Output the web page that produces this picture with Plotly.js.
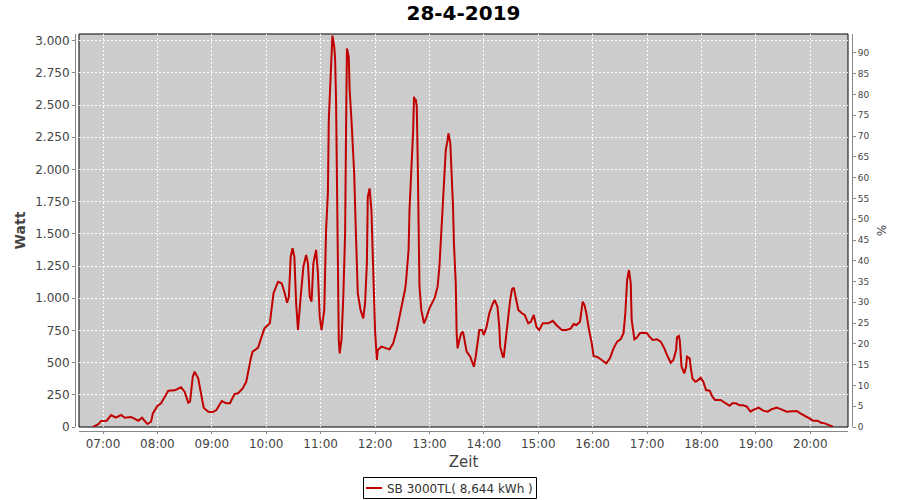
<!DOCTYPE html>
<html>
<head>
<meta charset="utf-8">
<script src="https://cdn.plot.ly/plotly-3.0.1.min.js"></script>
<style>html,body{margin:0;padding:0;background:#fff;}#chart{width:900px;height:500px;}</style>
</head>
<body>
<div id="chart"></div>
<script>
const day = '2019-04-28';
const times = ['06:49','06:55','06:58','07:04','07:09','07:14','07:20','07:24','07:31','07:39','07:43','07:49','07:53','07:55','08:00','08:04','08:12','08:19','08:26','08:30','08:34','08:36','08:39','08:41','08:45','08:49','08:51','08:56','09:01','09:05','09:11','09:16','09:20','09:25','09:29','09:34','09:38','09:43','09:45','09:51','09:54','09:58','10:04','10:06','10:08','10:13','10:17','10:20','10:23','10:25','10:27','10:29','10:31','10:33','10:35','10:38','10:41','10:44','10:46','10:48','10:50','10:52','10:55','10:57','10:59','11:01','11:04','11:06','11:08','11:09','11:11','11:13','11:15','11:16','11:17','11:18','11:19','11:20','11:21','11:23','11:25','11:27','11:28','11:29','11:31','11:32','11:34','11:37','11:39','11:41','11:44','11:47','11:49','11:51','11:52','11:54','11:56','11:58','12:00','12:02','12:03','12:07','12:13','12:16','12:20','12:24','12:27','12:31','12:33','12:34','12:37','12:38','12:40','12:42','12:43','12:44','12:45','12:46','12:47','12:48','12:49','12:51','12:54','12:57','13:00','13:06','13:09','13:11','13:13','13:15','13:18','13:20','13:21','13:23','13:25','13:26','13:27','13:29','13:30','13:31','13:33','13:35','13:37','13:39','13:41','13:45','13:48','13:49','13:51','13:53','13:55','13:58','14:00','14:03','14:06','14:10','14:12','14:15','14:17','14:18','14:21','14:22','14:24','14:26','14:29','14:31','14:33','14:35','14:38','14:42','14:45','14:49','14:52','14:55','14:58','15:01','15:05','15:11','15:16','15:20','15:26','15:31','15:36','15:39','15:42','15:46','15:49','15:51','15:53','15:56','15:59','16:01','16:06','16:10','16:15','16:19','16:23','16:27','16:31','16:34','16:36','16:38','16:40','16:42','16:43','16:46','16:49','16:52','16:56','17:00','17:02','17:06','17:11','17:15','17:19','17:22','17:26','17:29','17:32','17:33','17:35','17:36','17:38','17:41','17:43','17:44','17:47','17:48','17:50','17:53','17:55','17:59','18:02','18:05','18:09','18:12','18:15','18:21','18:26','18:31','18:34','18:38','18:42','18:46','18:50','18:54','18:57','19:03','19:08','19:13','19:17','19:23','19:28','19:34','19:40','19:45','19:49','19:54','19:59','20:03','20:08','20:12','20:16','20:20','20:25'];
const watt = [0,23,47,49,93,72,93,72,78,49,72,23,41,106,163,184,282,285,308,274,189,197,391,430,378,235,150,119,116,132,202,184,184,256,262,300,352,533,585,616,689,766,805,909,1038,1128,1116,1051,965,1012,1323,1388,1323,961,753,1012,1245,1336,1271,1012,973,1271,1375,1194,857,753,909,1530,1815,2384,2798,3040,2953,2850,2539,1900,1219,676,572,676,1012,1504,2281,2940,2876,2617,2384,1970,1478,1038,909,844,961,1271,1788,1853,1685,1271,753,520,598,624,611,603,650,753,857,986,1064,1116,1375,1685,1950,2300,2565,2539,2539,2488,2100,1504,1090,909,805,857,922,1007,1090,1245,1504,1815,2151,2229,2281,2203,1944,1711,1427,1116,728,611,676,728,740,676,585,546,495,468,546,676,753,753,714,779,883,961,986,934,779,624,546,546,676,831,986,1069,1082,1012,909,883,870,805,818,870,779,753,805,805,825,792,753,753,766,800,792,818,973,947,883,753,650,551,541,520,495,533,611,663,683,728,883,1142,1219,1116,831,681,697,728,732,728,707,676,681,663,611,559,499,520,598,697,707,676,468,416,468,546,533,468,378,352,357,383,352,287,282,235,210,210,189,165,184,184,168,168,158,119,132,150,127,119,137,150,137,119,122,124,106,88,67,49,49,33,28,16,2];
const pctTicks = [0,5,10,15,20,25,30,35,40,45,50,55,60,65,70,75,80,85,90];
const seriesName = 'SB 3000TL( 8,644 kWh )';
const chartTitle = '28-4-2019';

const xs = times.map(t => day + ' ' + t);
const font = 'DejaVu Sans, Verdana, sans-serif';
const lineColor = '#c00000';

const W = 900, H = 500;
const L = 75, R = 900 - 852, T = 34, B = 500 - 431;
const pw = W - L - R, ph = H - T - B;
// helpers to convert pixel layout positions into paper coordinates
const px = v => (v - L) / pw;
const py = v => (H - B - v) / ph;

const data = [
  {x: xs, y: watt, type: 'scatter', mode: 'lines', name: seriesName, showlegend: false,
   line: {color: lineColor, width: 2}, hoverinfo: 'x+y'},
  {x: [xs[0]], y: [0], type: 'scatter', mode: 'markers', yaxis: 'y2', showlegend: false,
   marker: {opacity: 0, size: 1}, hoverinfo: 'skip'}
];

const layout = {
  width: W, height: H,
  margin: {l: L, r: R, t: T, b: B, pad: 0},
  paper_bgcolor: '#ffffff',
  plot_bgcolor: '#cccccc',
  separators: ',.',
  showlegend: false,
  title: {text: '<b>' + chartTitle + '</b>', font: {family: font, size: 20, color: '#000'},
          x: 0.5, xanchor: 'center', xref: 'paper', y: 1 - 13/H, yanchor: 'middle'},
  xaxis: {
    type: 'date',
    domain: [px(79), px(848)],
    anchor: 'free', position: 0,
    range: [day + ' 06:33:32', day + ' 20:41:34'],
    tick0: day + ' 07:00', dtick: 3600000, tickformat: '%H:%M',
    showgrid: true, gridcolor: '#ffffff', griddash: '2px,2px', gridwidth: 1,
    showline: true, linecolor: '#888888', linewidth: 1,
    ticks: 'outside', ticklen: 2, tickcolor: '#888888',
    tickfont: {family: font, size: 12, color: '#444444'},
    zeroline: false, fixedrange: true,
    title: {text: 'Zeit', font: {family: font, size: 15, color: '#444444'}, standoff: 6}
  },
  yaxis: {
    domain: [py(427), 1],
    anchor: 'free', position: 0,
    range: [0, 3052],
    tick0: 0, dtick: 250, tickformat: ',d',
    showgrid: true, gridcolor: '#ffffff', griddash: '2px,2px', gridwidth: 1,
    showline: true, linecolor: '#888888', linewidth: 1,
    ticks: 'outside', ticklen: 3, tickcolor: '#888888',
    tickfont: {family: font, size: 12, color: '#444444'},
    zeroline: false, fixedrange: true,
    title: {text: '<b>Watt</b>', font: {family: font, size: 14, color: '#444444'}, standoff: 5}
  },
  yaxis2: {
    overlaying: 'y', side: 'right', anchor: 'free', position: 1,
    range: [0, 94.57],
    tickmode: 'array', tickvals: pctTicks, ticktext: pctTicks.map(String),
    showgrid: false, zeroline: false,
    showline: true, linecolor: '#888888', linewidth: 1,
    ticks: 'outside', ticklen: 3, tickcolor: '#888888',
    tickfont: {family: font, size: 9, color: '#444444'},
    fixedrange: true,
    title: {text: '%', font: {family: font, size: 12, color: '#444444'}, standoff: 9}
  },
  shapes: [
    {type: 'rect', xref: 'x domain', yref: 'y domain', x0: 0, x1: 1, y0: 0, y1: 1,
     line: {color: '#000000', width: 1}, fillcolor: 'rgba(0,0,0,0)', layer: 'below'},
    // legend box
    {type: 'rect', xref: 'paper', yref: 'paper', x0: px(363.5), x1: px(536.5), y0: py(477.5), y1: py(498.5),
     line: {color: '#000000', width: 1}, fillcolor: '#ffffff'},
    {type: 'line', xref: 'paper', yref: 'paper', x0: px(366), x1: px(382), y0: py(488), y1: py(488),
     line: {color: lineColor, width: 2}}
  ],
  annotations: [
    {text: seriesName, xref: 'paper', yref: 'paper', x: px(385), y: py(488.5), xanchor: 'left', yanchor: 'middle',
     showarrow: false, font: {family: font, size: 12, color: '#333333'}}
  ]
};

Plotly.newPlot('chart', data, layout, {displayModeBar: false, staticPlot: true});
</script>
</body>
</html>
